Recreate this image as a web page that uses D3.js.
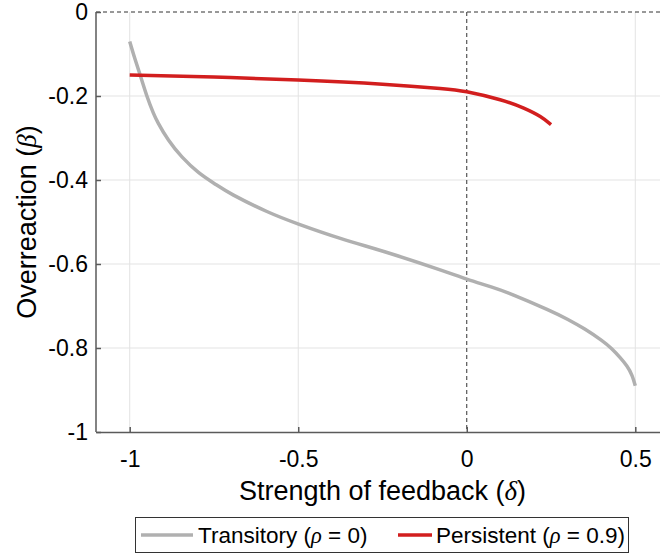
<!DOCTYPE html>
<html lang="en">
<head>
<meta charset="utf-8" />
<style>
    body { margin: 0; background: #fff; }
    text { font-family: "Liberation Sans", Arial, sans-serif; fill: #000; }
    .greek { font-family: "Liberation Serif", "DejaVu Serif", serif; font-style: italic; }
    .grid line { stroke: #e3e3e3; stroke-width: 1; }
    .axis path, .axis line { stroke: #5a5a5a; stroke-width: 1.5; }
</style>
</head>
<body>
<script src="https://d3js.org/d3.v7.min.js"></script>
<script>
    // transitory (rho = 0)
    var transDelta = [-1.0, -0.985, -0.969, -0.949, -0.93, -0.915, -0.885, -0.845, -0.796, -0.746, -0.692, -0.593, -0.499, -0.375, -0.227, -0.079, 0, 0.07, 0.139, 0.238, 0.3, 0.35, 0.4, 0.43, 0.455, 0.475, 0.49, 0.5]
    var transBeta = [-0.07, -0.11, -0.150, -0.200, -0.240, -0.265, -0.305, -0.345, -0.382, -0.410, -0.436, -0.475, -0.505, -0.539, -0.575, -0.614, -0.636, -0.654, -0.674, -0.708, -0.732, -0.755, -0.782, -0.802, -0.823, -0.843, -0.865, -0.890]
    // persistent (rho = 0.9)
    var persDelta = [-1.0, -0.75, -0.5, -0.25, -0.079, 0, 0.099, 0.169, 0.218, 0.25]
    var persBeta = [-0.150, -0.155, -0.162, -0.172, -0.182, -0.190, -0.209, -0.229, -0.249, -0.268]

    var xTicks = [-1, -0.5, 0, 0.5]
    var yTicks = [-1, -0.8, -0.6, -0.4, -0.2, 0]
    var legendNames = ["Transitory", "Persistent"]
    var legendRho = ["0", "0.9"]

    var W = 660, H = 554
    var x = d3.scaleLinear().domain([-1.1, 0.6]).range([96, 669])
    var y = d3.scaleLinear().domain([-1, 0]).range([432, 12])

    var svg = d3.select("body").append("svg")
        .attr("width", W).attr("height", H)

    // grid
    var grid = svg.append("g").attr("class", "grid")
    grid.selectAll(".gx").data(xTicks.filter(function (d) { return d != 0 }))
        .enter().append("line")
        .attr("x1", function (d) { return x(d) }).attr("x2", function (d) { return x(d) })
        .attr("y1", y(-1)).attr("y2", y(0))
    grid.selectAll(".gy").data(yTicks.filter(function (d) { return d != 0 && d != -1 }))
        .enter().append("line")
        .attr("x1", x(-1.1)).attr("x2", x(0.6))
        .attr("y1", function (d) { return y(d) }).attr("y2", function (d) { return y(d) })

    // dashed reference lines
    svg.append("line")
        .attr("x1", x(-1.1)).attr("x2", x(0.6)).attr("y1", y(0)).attr("y2", y(0))
        .attr("stroke", "#333").attr("stroke-width", 1).attr("stroke-dasharray", "4,3")
    svg.append("line")
        .attr("x1", x(0)).attr("x2", x(0)).attr("y1", y(0)).attr("y2", y(-1))
        .attr("stroke", "#333").attr("stroke-width", 1).attr("stroke-dasharray", "4,3")

    // axes
    var xAxis = svg.append("g").attr("class", "axis")
        .attr("transform", "translate(0," + y(-1) + ")")
        .call(d3.axisBottom(x).tickValues(xTicks).tickSizeInner(-5).tickSizeOuter(0).tickPadding(19)
            .tickFormat(function (d) { return String(d) }))
    var yAxis = svg.append("g").attr("class", "axis")
        .attr("transform", "translate(" + x(-1.1) + ",0)")
        .call(d3.axisLeft(y).tickValues(yTicks).tickSizeInner(-5).tickSizeOuter(0).tickPadding(8)
            .tickFormat(function (d) { return String(d) }))
    svg.selectAll(".axis text").style("font-size", "23px").attr("fill", "#000")
        .style("font-family", "'Liberation Sans', Arial, sans-serif")
    yAxis.select(".domain").attr("d", "M0," + (y(0)) + "V" + y(-1))

    // curves
    var line = d3.line()
        .x(function (d) { return x(d[0]) })
        .y(function (d) { return y(d[1]) })
        .curve(d3.curveNatural)
    var trans = d3.zip(transDelta, transBeta)
    var pers = d3.zip(persDelta, persBeta)
    svg.append("path").datum(trans).attr("d", line)
        .attr("fill", "none").attr("stroke", "#b0b0b0").attr("stroke-width", 3.5)
    svg.append("path").datum(pers).attr("d", line)
        .attr("fill", "none").attr("stroke", "#d21e1e").attr("stroke-width", 3.5)

    // axis titles
    var xt = svg.append("text").attr("text-anchor", "middle")
        .attr("x", (x(-1.1) + x(0.6)) / 2).attr("y", 500).style("font-size", "27px")
    xt.append("tspan").text("Strength of feedback (")
    xt.append("tspan").attr("class", "greek").text("δ")
    xt.append("tspan").text(")")

    var yt = svg.append("text").attr("text-anchor", "middle")
        .attr("transform", "translate(36," + (y(-0.5)) + ")rotate(-90)").style("font-size", "27px")
    yt.append("tspan").text("Overreaction (")
    yt.append("tspan").attr("class", "greek").text("β")
    yt.append("tspan").text(")")

    // legend
    var lg = svg.append("g")
    lg.append("rect").attr("x", 135.5).attr("y", 517.5).attr("width", 493).attr("height", 35)
        .attr("fill", "#fff").attr("stroke", "#333").attr("stroke-width", 1)
    var items = [
        { x0: 141, x1: 193, tx: 198, color: "#b0b0b0" },
        { x0: 398, x1: 432, tx: 436, color: "#d21e1e" }
    ]
    items.forEach(function (it, i) {
        lg.append("line").attr("x1", it.x0).attr("x2", it.x1).attr("y1", 535).attr("y2", 535)
            .attr("stroke", it.color).attr("stroke-width", 3.5)
        var t = lg.append("text").attr("x", it.tx).attr("y", 543).style("font-size", "22.5px")
        t.append("tspan").text(legendNames[i] + " (")
        t.append("tspan").attr("class", "greek").text("ρ")
        t.append("tspan").text(" = " + legendRho[i] + ")")
    })
</script>
</body>
</html>
